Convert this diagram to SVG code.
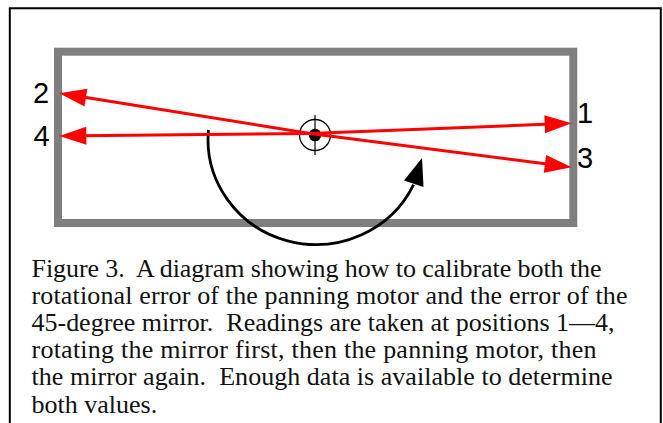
<svg xmlns="http://www.w3.org/2000/svg" width="663" height="423" viewBox="0 0 663 423">
  <style>
    .frame { fill: none; stroke: #000; stroke-width: 2; }
    .mirror-box { fill: none; stroke: #7f7f7f; stroke-width: 8; }
    .beam { fill: none; stroke: #ff0000; stroke-width: 3; marker-end: url(#beamHead); }
    .turn { fill: none; stroke: #000; stroke-width: 2.8; }
    .pos { font-family: "Liberation Sans", Arial, sans-serif; font-size: 29px; fill: #000; }
    .caption { font-family: "Liberation Serif", "Times New Roman", serif; font-size: 26px; fill: #111; white-space: pre; }
  </style>
  <defs>
    <marker id="beamHead" markerUnits="userSpaceOnUse" markerWidth="28" markerHeight="19" refX="6" refY="9" orient="auto" overflow="visible">
      <path d="M0,0 L27,9 L0,18 Z" fill="#ff0000"/>
    </marker>
  </defs>

  <rect width="663" height="423" fill="#fff"/>

  <!-- outer frame, open at the bottom -->
  <path class="frame" d="M9.8,430 V8.2 H660.8 V430"/>

  <!-- scan target rectangle -->
  <g id="target">
    <rect class="mirror-box" x="58" y="51.7" width="515.3" height="171.3"/>
  </g>

  <!-- pivot / mirror centre -->
  <g id="pivot">
    <circle cx="315" cy="135" r="15.5" fill="none" stroke="#000" stroke-width="1.3"/>
    <circle cx="315" cy="135" r="6.3" fill="#000"/>
    <line x1="315" y1="115" x2="315" y2="155" stroke="#000" stroke-width="1.2"/>
  </g>

  <!-- position labels -->
  <g id="label-2"><text class="pos" x="33" y="103.3">2</text></g>
  <g id="label-4"><text class="pos" x="33.5" y="146">4</text></g>
  <g id="label-1"><text class="pos" x="577" y="123.3">1</text></g>
  <g id="label-3"><text class="pos" x="577" y="168">3</text></g>

  <!-- rotation arrow and beams -->
  <g id="connectors">
    <path class="turn" d="M208.5,130 A108,105 0 0,0 413.6,184.6"/>
    <polygon points="422,158 404,180.5 423.5,187" fill="#000"/>
    <line class="beam" x1="310" y1="133.5" x2="80.0" y2="96.6"/>
    <line class="beam" x1="310" y1="133.5" x2="80.3" y2="135.8"/>
    <line class="beam" x1="310" y1="133.5" x2="550.7" y2="124.1"/>
    <line class="beam" x1="310" y1="133.5" x2="550.9" y2="164.6"/>
  </g>

  <!-- figure caption -->
  <g id="caption">
    <text class="caption" xml:space="preserve" x="31.5" y="277" textLength="570">Figure 3.  A diagram showing how to calibrate both the</text>
    <text class="caption" xml:space="preserve" x="31.5" y="304.1" textLength="596">rotational error of the panning motor and the error of the</text>
    <text class="caption" xml:space="preserve" x="31.5" y="331.2" textLength="583">45-degree mirror.  Readings are taken at positions 1—4,</text>
    <text class="caption" xml:space="preserve" x="31.5" y="358.3" textLength="565">rotating the mirror first, then the panning motor, then</text>
    <text class="caption" xml:space="preserve" x="31.5" y="385.4" textLength="581">the mirror again.  Enough data is available to determine</text>
    <text class="caption" xml:space="preserve" x="31.5" y="412.5">both values.</text>
  </g>
</svg>
